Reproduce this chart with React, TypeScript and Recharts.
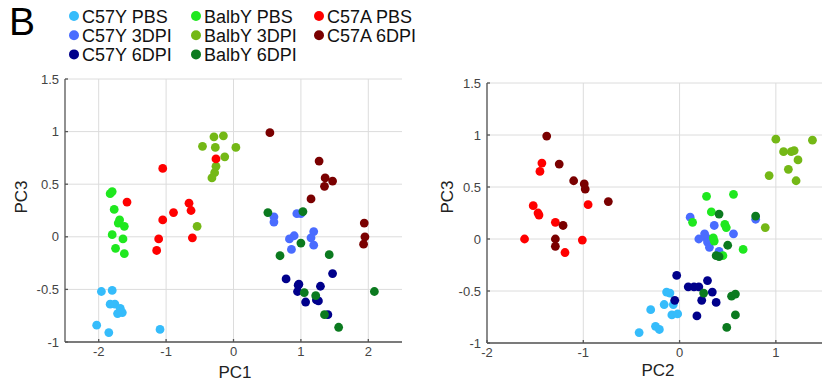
import { ScatterChart, Scatter, XAxis, YAxis, CartesianGrid } from "recharts";

type Pt = [number, number];

const groupNames = [
  "C57Y PBS",
  "C57Y 3DPI",
  "C57Y 6DPI",
  "BalbY PBS",
  "BalbY 3DPI",
  "BalbY 6DPI",
  "C57A PBS",
  "C57A 6DPI",
];
const groupColors = [
  "#35bcfb",
  "#4a6cff",
  "#00008b",
  "#1fe81f",
  "#74b816",
  "#0b7a1f",
  "#ff0000",
  "#7a0000",
];

const pc1Ticks = [-2, -1, 0, 1, 2];
const pc2Ticks = [-2, -1, 0, 1];
const pc3Ticks = [-1, -0.5, 0, 0.5, 1, 1.5];

// PC1 vs PC3
const c57yPbsPc1: Pt[] = [[-1.96, -0.52], [-1.8, -0.51], [-1.83, -0.64], [-1.76, -0.64], [-1.68, -0.68], [-1.65, -0.72], [-1.72, -0.73], [-2.03, -0.84], [-1.85, -0.91], [-1.09, -0.88]];
const c57y3dpiPc1: Pt[] = [[0.6, 0.19], [0.6, 0.14], [0.94, 0.22], [1.0, 0.22], [1.19, 0.05], [1.15, -0.01], [0.9, 0.01], [0.83, -0.02], [0.86, -0.12], [1.19, -0.08]];
const c57y6dpiPc1: Pt[] = [[0.78, -0.4], [0.96, -0.46], [0.95, -0.52], [1.07, -0.62], [1.29, -0.47], [1.23, -0.6], [1.26, -0.61], [1.47, -0.35], [1.4, -0.74], [0.97, -0.45]];
const balbyPbsPc1: Pt[] = [[-1.83, 0.41], [-1.8, 0.43], [-1.77, 0.26], [-1.69, 0.16], [-1.71, 0.13], [-1.62, 0.1], [-1.8, 0.02], [-1.64, -0.02], [-1.75, -0.11], [-1.62, -0.16]];
const balby3dpiPc1: Pt[] = [[-0.46, 0.86], [-0.29, 0.95], [-0.15, 0.96], [-0.27, 0.85], [0.035, 0.85], [-0.13, 0.76], [-0.26, 0.67], [-0.28, 0.61], [-0.32, 0.56], [-0.54, 0.1]];
const balby6dpiPc1: Pt[] = [[0.51, 0.23], [1.03, 0.24], [1.0, -0.06], [0.69, -0.18], [1.42, -0.17], [2.09, -0.52], [1.05, -0.53], [1.22, -0.56], [1.35, -0.74], [1.56, -0.86]];
const c57aPbsPc1: Pt[] = [[-1.05, 0.65], [-0.26, 0.74], [-1.58, 0.33], [-0.66, 0.32], [-0.63, 0.25], [-0.89, 0.23], [-1.05, 0.16], [-1.11, -0.02], [-1.14, -0.13], [-0.61, -0.01]];
const c57a6dpiPc1: Pt[] = [[0.54, 0.99], [1.27, 0.72], [1.36, 0.56], [1.47, 0.53], [1.35, 0.48], [1.15, 0.36], [1.94, 0.13], [1.95, 0.0], [1.93, -0.07]];

// PC2 vs PC3
const c57yPbsPc2: Pt[] = [[-0.135, -0.51], [-0.1, -0.52], [-0.16, -0.63], [-0.065, -0.63], [-0.3, -0.68], [-0.08, -0.73], [-0.02, -0.72], [-0.42, -0.9], [-0.25, -0.84], [-0.21, -0.87]];
const c57y3dpiPc2: Pt[] = [[0.11, 0.21], [0.36, 0.13], [0.56, 0.05], [0.2, 0.0], [0.28, 0.01], [0.26, 0.05], [0.29, -0.03], [0.31, -0.08], [0.41, -0.12], [0.79, 0.19]];
const c57y6dpiPc2: Pt[] = [[-0.03, -0.35], [0.09, -0.46], [0.15, -0.46], [0.2, -0.46], [0.29, -0.4], [0.34, -0.51], [0.38, -0.61], [0.23, -0.59], [0.18, -0.74], [-0.05, -0.59]];
const balbyPbsPc2: Pt[] = [[0.28, 0.41], [0.56, 0.43], [0.33, 0.26], [0.135, 0.16], [0.47, 0.14], [0.485, 0.11], [0.35, 0.01], [0.36, -0.02], [0.45, -0.16], [0.66, -0.1]];
const balby3dpiPc2: Pt[] = [[1.0, 0.96], [1.38, 0.95], [1.08, 0.84], [1.16, 0.84], [1.19, 0.85], [1.23, 0.76], [1.13, 0.67], [0.93, 0.61], [1.21, 0.56], [0.89, 0.11]];
const balby6dpiPc2: Pt[] = [[0.41, 0.24], [0.79, 0.22], [0.5, -0.06], [0.38, -0.16], [0.41, -0.17], [0.25, -0.52], [0.54, -0.55], [0.58, -0.53], [0.58, -0.73], [0.49, -0.85]];
const c57aPbsPc2: Pt[] = [[-1.43, 0.73], [-1.45, 0.65], [-1.52, 0.32], [-1.47, 0.25], [-1.46, 0.23], [-1.29, 0.16], [-0.95, 0.33], [-1.61, 0.0], [-1.01, -0.01], [-1.19, -0.13]];
const c57a6dpiPc2: Pt[] = [[-1.38, 0.99], [-1.25, 0.72], [-1.1, 0.56], [-0.99, 0.53], [-0.98, 0.48], [-0.74, 0.36], [-1.21, 0.13], [-1.29, 0.0], [-1.29, -0.07]];

const pc1Series = [c57yPbsPc1, c57y3dpiPc1, c57y6dpiPc1, balbyPbsPc1, balby3dpiPc1, balby6dpiPc1, c57aPbsPc1, c57a6dpiPc1];
const pc2Series = [c57yPbsPc2, c57y3dpiPc2, c57y6dpiPc2, balbyPbsPc2, balby3dpiPc2, balby6dpiPc2, c57aPbsPc2, c57a6dpiPc2];

const FONT = "Arial, 'Liberation Sans', sans-serif";
const AXIS = "#555";
const GRID = "#dcdcdc";
const tickStyle = { fill: "#444", fontSize: 13, fontFamily: FONT };

interface PanelProps {
  series: Pt[][];
  xDomain: [number, number];
  xTicks: number[];
  left: number;
  width: number;
  margin: { top: number; right: number; bottom: number; left: number };
  yAxisWidth: number;
}

function PcaPanel({ series, xDomain, xTicks, left, width, margin, yAxisWidth }: PanelProps) {
  return (
    <div style={{ position: "absolute", left, top: 0 }}>
      <ScatterChart width={width} height={387} margin={margin}>
        <CartesianGrid
          stroke={GRID}
          horizontalValues={pc3Ticks}
          verticalValues={xTicks}
        />
        <XAxis
          type="number"
          dataKey="x"
          domain={xDomain}
          ticks={xTicks}
          height={30}
          stroke={AXIS}
          strokeWidth={1.3}
          tickSize={-3}
          tickMargin={8}
          tick={tickStyle}
          allowDataOverflow
        />
        <YAxis
          type="number"
          dataKey="y"
          domain={[-1, 1.5]}
          ticks={pc3Ticks}
          width={yAxisWidth}
          stroke={AXIS}
          strokeWidth={1.3}
          tickSize={-3}
          tickMargin={9}
          tick={tickStyle}
          allowDataOverflow
        />
        {series.map((pts, i) => (
          <Scatter
            key={groupNames[i]}
            name={groupNames[i]}
            data={pts.map(([x, y]) => ({ x, y }))}
            isAnimationActive={false}
            shape={(p: any) => (
              <circle cx={p.cx} cy={p.cy} r={4.4} fill={groupColors[i]} />
            )}
          />
        ))}
      </ScatterChart>
    </div>
  );
}

const legendCols = [83, 205, 328];

export default function App() {
  return (
    <div
      style={{
        position: "absolute",
        left: 0,
        top: 0,
        width: 822,
        height: 387,
        overflow: "hidden",
        background: "#fff",
      }}
    >
      <PcaPanel
        series={pc1Series}
        xDomain={[-2.5, 2.5]}
        xTicks={pc1Ticks}
        left={0}
        width={410}
        margin={{ top: 79, right: 8, bottom: 15, left: 0 }}
        yAxisWidth={65}
      />
      <PcaPanel
        series={pc2Series}
        xDomain={[-2, 1.5]}
        xTicks={pc2Ticks}
        left={420}
        width={404}
        margin={{ top: 83, right: 0, bottom: 14, left: 0 }}
        yAxisWidth={67}
      />
      <svg
        width={822}
        height={387}
        style={{ position: "absolute", left: 0, top: 0, pointerEvents: "none" }}
        fontFamily={FONT}
      >
        <text x={9} y={35} fontSize={39} fill="#000">B</text>
        {groupNames.map((name, i) => {
          const col = i < 3 ? 0 : i < 6 ? 1 : 2;
          const row = i < 3 ? i : i < 6 ? i - 3 : i - 6;
          const x = legendCols[col];
          const y = 23 + row * 19.2;
          return (
            <g key={name}>
              <circle cx={x - 9} cy={y - 7} r={5} fill={groupColors[i]} />
              <text x={x - 1} y={y} fontSize={18} fill="#111">{name}</text>
            </g>
          );
        })}
        <text x={235} y={378} fontSize={17} textAnchor="middle" fill="#222">PC1</text>
        <text x={658} y={376} fontSize={17} textAnchor="middle" fill="#222">PC2</text>
        <text
          x={0}
          y={0}
          fontSize={17}
          textAnchor="middle"
          fill="#222"
          transform="translate(27,197) rotate(-90)"
        >
          PC3
        </text>
        <text
          x={0}
          y={0}
          fontSize={17}
          textAnchor="middle"
          fill="#222"
          transform="translate(453,197) rotate(-90)"
        >
          PC3
        </text>
      </svg>
    </div>
  );
}
